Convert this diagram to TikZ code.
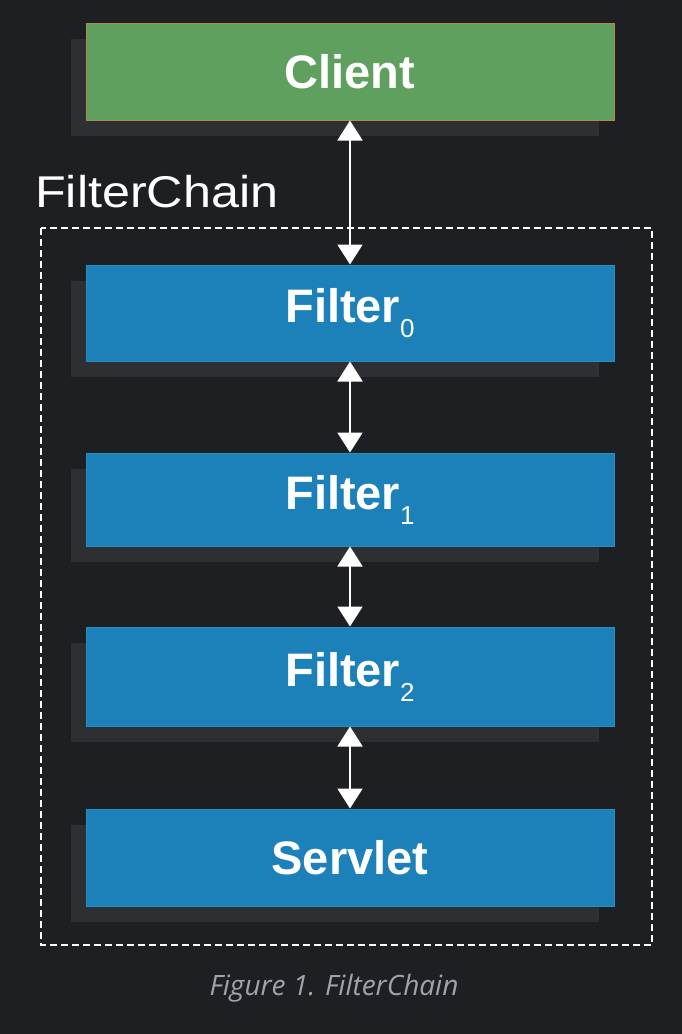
\documentclass[tikz,border=0pt]{standalone}
\usepackage{fontspec}
\setmainfont{Liberation Sans}
\newfontfamily\captionfont{Open Sans}
\usetikzlibrary{
  arrows.meta,
  positioning,
  shadows,
}
\definecolor{pagebg}{HTML}{1D1F22}
\definecolor{clientgreen}{HTML}{5FA05F}
\definecolor{clientedge}{HTML}{B5894E}
\definecolor{filterblue}{HTML}{1B81B8}
\definecolor{filteredge}{HTML}{2590C0}
\definecolor{boxshadow}{HTML}{2E2F32}
\definecolor{captiongray}{HTML}{A0A3A8}
\newcommand{\sub}[1]{\raisebox{-0.32em}{\mdseries\fontsize{26}{30}\selectfont #1}}
\tikzset{
  stage box/.style = {
    draw=filteredge,
    fill=filterblue,
    line width=1pt,
    minimum width=528pt,
    minimum height=96pt,
    inner sep=0pt,
    text=white,
    font=\fontsize{47}{56}\selectfont\bfseries,
    general shadow={fill=boxshadow, shadow xshift=-15pt, shadow yshift=-16pt}
  },
  client box/.style = {
    stage box,
    draw=clientedge,
    fill=clientgreen
  },
  link/.style = {
    draw=white,
    line width=2pt,
    {Triangle[width=25pt,length=20pt]}-{Triangle[width=25pt,length=20pt]}
  },
  chain frame/.style = {
    draw=white,
    line width=2pt,
    dash pattern=on 7pt off 4pt
  },
}

\begin{document}
\begin{tikzpicture}[x=1pt, y=-1pt]
  %% background and page size
  \fill[pagebg] (0,0) rectangle (682,1034);
  \useasboundingbox (0,0) rectangle (682,1034);
  %% dashed chain frame
  \coordinate (frameNW) at (41,228);
  \coordinate (frameSE) at (652,945);
  \draw[chain frame] (frameNW) rectangle (frameSE);
  \node (chainlabel) [anchor=base west, text=white, inner sep=0pt,
    font=\fontsize{44.5}{52}\selectfont, xscale=1.13] at (35,207) {FilterChain};
  %% boxes
  \node (client)  [client box, minimum height=97pt] at (350,71.5) {Client};
  \node (filter0) [stage box] at (350,313)   {Filter\sub{0}};
  \node (filter1) [stage box, minimum height=93pt] at (350,499.5) {Filter\sub{1}};
  \node (filter2) [stage box, minimum height=99pt] at (350,676.5) {Filter\sub{2}};
  \node (servlet) [stage box, minimum height=97pt] at (350,857.5) {Servlet};
  %% arrows
  \draw[link] (client.south) -- (filter0.north);
  \draw[link] (filter0.south) -- (filter1.north);
  \draw[link] (filter1.south) -- (filter2.north);
  \draw[link] (filter2.south) -- (servlet.north);
  %% caption
  \node (caption) [anchor=base, text=captiongray, inner sep=0pt,
    font=\captionfont\itshape\fontsize{28}{34}\selectfont] at (334,995) {Figure 1. FilterChain};
\end{tikzpicture}
\end{document}
